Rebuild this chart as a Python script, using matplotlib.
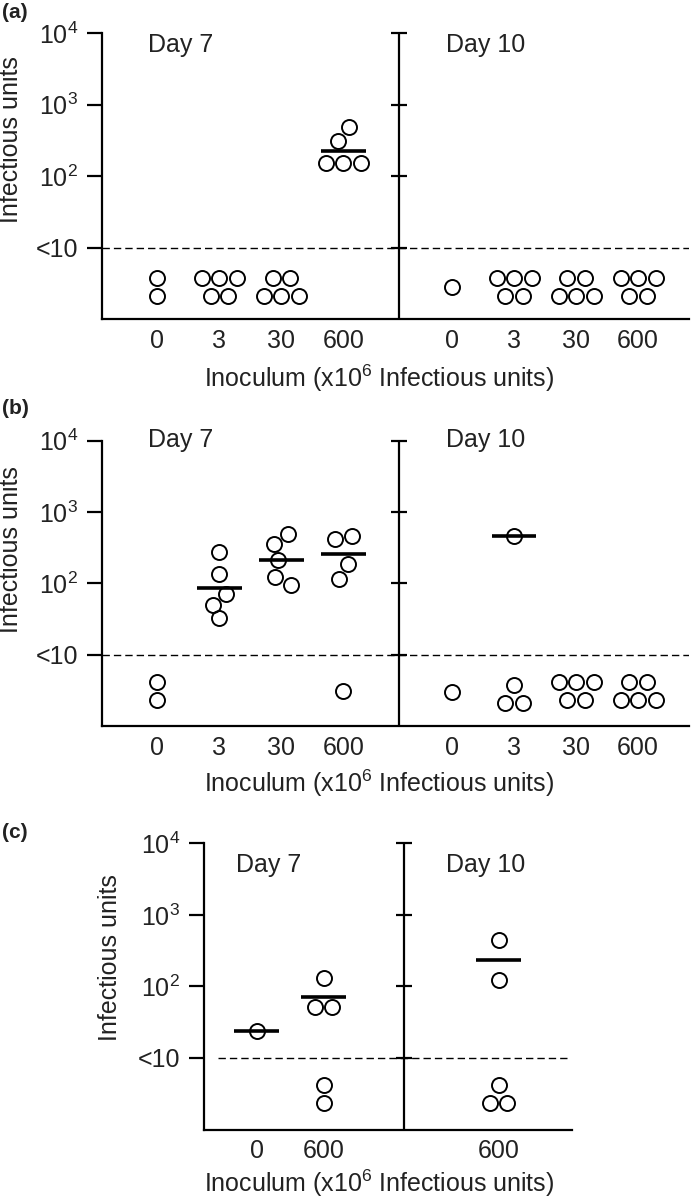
import numpy as np
import matplotlib
matplotlib.use('Agg')
import matplotlib.pyplot as plt
from matplotlib import font_manager
from matplotlib.ticker import NullLocator

# narrow sans if present (reference text is tall and condensed), else plain Liberation Sans
names = {f.name for f in font_manager.fontManager.ttflist}
if 'Liberation Sans Narrow' in names:
    FAM, FS = 'Liberation Sans Narrow', 20.5
else:
    FAM, FS = 'Liberation Sans', 18
plt.rcParams['font.family'] = [FAM, 'DejaVu Sans']
plt.rcParams['mathtext.fontset'] = 'custom'
plt.rcParams['mathtext.rm'] = FAM
plt.rcParams['mathtext.it'] = FAM + ':italic'
plt.rcParams['mathtext.bf'] = FAM + ':bold'
TXT = '#222222'

# ---- data (infectious units per animal; values < 10 are below detection) ----
inoc_ab = ['0', '3', '30', '600']
inoc_c7 = ['0', '600']
inoc_c10 = ['600']
ytick_vals = [10, 100, 1000, 10000]
ytick_labels = ['<10', r'$\mathregular{10^2}$', r'$\mathregular{10^3}$', r'$\mathregular{10^4}$']

# panel (a)
a7_0 = [3.7, 2.07]
a7_3 = [3.7, 3.7, 3.7, 2.07, 2.07]
a7_30 = [3.7, 3.7, 2.07, 2.07, 2.07]
a7_600 = [490, 310, 152, 152, 152]
a10_0 = [2.83]
a10_3 = [3.7, 3.7, 3.7, 2.07, 2.07]
a10_30 = [3.7, 3.7, 2.07, 2.07, 2.07]
a10_600 = [3.7, 3.7, 3.7, 2.07, 2.07]
a7_med = [np.nan, np.nan, np.nan, 226]
a10_med = [np.nan, np.nan, np.nan, np.nan]

# panel (b)
b7_0 = [4.15, 2.29]
b7_3 = [277, 135, 71, 50, 32.5]
b7_30 = [490, 351, 212, 121, 95]
b7_600 = [458, 417, 185, 116, 3.07]
b10_0 = [3.0]
b10_3 = [458, 3.8, 2.1, 2.1]
b10_30 = [4.1, 4.1, 4.1, 2.28, 2.28]
b10_600 = [4.1, 4.1, 2.28, 2.28, 2.28]
b7_med = [np.nan, 85, 212, 257]
b10_med = [np.nan, 458, np.nan, np.nan]

# panel (c)
c7_0 = [24]
c7_600 = [131, 52, 52, 4.24, 2.36]
c10_600 = [449, 124, 4.24, 2.36, 2.36]
c7_med = [24, 71]
c10_med = [236]

W, H = 692, 1200
fig = plt.figure(figsize=(W / 100, H / 100), dpi=100)


def px_axes(left, top, right, bottom):
    return fig.add_axes([left / W, 1 - bottom / H, (right - left) / W, (bottom - top) / H])


def swarm(ax, x0, vals, d=17.5):
    # simple beeswarm in pixel space, returns x positions in data units
    tr = ax.transData
    ys = np.array([tr.transform((x0, v))[1] for v in vals])
    order = np.argsort(-ys, kind='stable')
    offs = np.zeros(len(vals))
    placed = []
    for i in order:
        y = ys[i]
        cands = [0.0]
        for (px, py) in placed:
            dy = y - py
            if abs(dy) < d:
                dx = np.sqrt(d * d - dy * dy)
                cands += [px + dx, px - dx]
        ok = [c for c in cands
              if all((c - px) ** 2 + (y - py) ** 2 >= d * d - 1e-6 for px, py in placed)]
        best = min(ok, key=lambda c: (round(abs(c), 6), c))
        offs[i] = best
        placed.append((best, y))
    # centre each cluster of touching circles
    n = len(vals)
    lab = list(range(n))
    for i in range(n):
        for j in range(i + 1, n):
            if np.hypot(offs[i] - offs[j], ys[i] - ys[j]) <= d * 1.001:
                a, b = lab[i], lab[j]
                lab = [a if l == b else l for l in lab]
    lab = np.array(lab)
    for l in set(lab):
        m = lab == l
        offs[m] -= offs[m].mean()
    ppu = tr.transform((1, 0))[0] - tr.transform((0, 0))[0]
    return x0 + offs / ppu


def draw_panel(ax, xpos, groups, meds, mid, xlim, ticklabels, dash_x):
    ax.set_yscale('log')
    ax.set_ylim(1, 1e4)
    ax.set_xlim(*xlim)
    ax.yaxis.set_minor_locator(NullLocator())
    ax.set_yticks(ytick_vals)
    ax.set_yticklabels(ytick_labels)
    ax.set_xticks(xpos)
    ax.set_xticklabels(ticklabels)
    ax.tick_params(axis='y', direction='out', length=11, width=1.6, pad=6,
                   labelsize=FS, labelcolor=TXT)
    ax.tick_params(axis='x', length=0, pad=7, labelsize=FS, labelcolor=TXT)
    for s in ['top', 'right']:
        ax.spines[s].set_visible(False)
    for s in ['left', 'bottom']:
        ax.spines[s].set_linewidth(1.6)
    ax.patch.set_visible(False)

    # second (Day 10) axis in the middle
    ax.axvline(mid, color='black', lw=1.6, zorder=2)
    ax.hlines(ytick_vals, mid - 0.13, mid + 0.13, color='black', lw=1.6, clip_on=False)
    # detection limit
    ax.hlines(10, dash_x[0], dash_x[1], color='black', lw=1.0,
              linestyles=[(0, (5.3, 2.9))], zorder=1)

    for x0, vals, md in zip(xpos, groups, meds):
        xs = swarm(ax, x0, vals)
        ax.plot(xs, vals, 'o', ls='none', mfc='none', mec='black', ms=10.8, mew=1.4,
                zorder=3, clip_on=False)
        if not np.isnan(md):
            ax.hlines(md, x0 - 0.36, x0 + 0.36, color='black', lw=2.6, zorder=4)


# ---- (a) ----
ax_a = px_axes(101.5, 33, 689, 319)
draw_panel(ax_a, [1, 2, 3, 4, 5.75, 6.75, 7.75, 8.75],
           [a7_0, a7_3, a7_30, a7_600, a10_0, a10_3, a10_30, a10_600],
           a7_med + a10_med, 4.9, (0.1, 9.57), inoc_ab + inoc_ab, (0.1, 9.57))

# ---- (b) ----
ax_b = px_axes(101.5, 440.7, 689, 726)
draw_panel(ax_b, [1, 2, 3, 4, 5.75, 6.75, 7.75, 8.75],
           [b7_0, b7_3, b7_30, b7_600, b10_0, b10_3, b10_30, b10_600],
           b7_med + b10_med, 4.9, (0.1, 9.57), inoc_ab + inoc_ab, (0.1, 9.57))

# ---- (c) ----
ax_c = px_axes(204, 843.3, 572.3, 1129.5)
draw_panel(ax_c, [1, 2.08, 4.9], [c7_0, c7_600, c10_600],
           c7_med + c10_med, 3.37, (0.15, 6.09), inoc_c7 + inoc_c10, (0.376, 6.0))


def ftext(x, y, s, **kw):
    fig.text(x / W, 1 - y / H, s, color=TXT, **kw)


xlab = r'Inoculum (x10$\mathregular{^6}$ Infectious units)'
for letter, ly, day_y, xl_y, yl_x, yl_y, d7_x in [
        ('(a)', 13, 45, 378, 11, 140, 148),
        ('(b)', 408, 440, 783, 11, 550, 148),
        ('(c)', 833, 865, 1183, 110, 958, 236)]:
    fig.text(2 / W, 1 - ly / H, letter, fontsize=15, fontweight='bold', ha='left', va='center',
             family=['Liberation Sans', 'DejaVu Sans'], color=TXT)
    ftext(d7_x, day_y, 'Day 7', fontsize=FS, ha='left', va='center')
    ftext(446, day_y, 'Day 10', fontsize=FS, ha='left', va='center')
    ftext(379.5, xl_y, xlab, fontsize=FS, ha='center', va='center')
    ftext(yl_x, yl_y, 'Infectious units', fontsize=FS, rotation=90, ha='center', va='center')

fig.savefig('out.png', dpi=100)
